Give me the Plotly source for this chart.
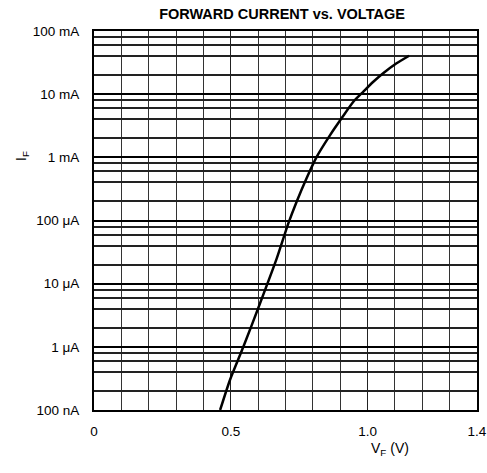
import plotly.graph_objects as go

# Data (forward voltage in V, forward current in A)
vf_volts = [0.461, 0.497, 0.546, 0.607, 0.668, 0.710, 0.741, 0.777, 0.814, 0.863,
            0.905, 0.948, 0.984, 1.021, 1.057, 1.106, 1.152]
if_amps = [1.0e-7, 2.99e-7, 1.0e-6, 4.89e-6, 2.51e-5, 8.9e-5, 2.0e-4, 4.68e-4, 1.02e-3, 2.25e-3,
           4.15e-3, 7.59e-3, 1.09e-2, 1.57e-2, 2.14e-2, 3.08e-2, 4.06e-2]

x_tick_vals = [0, 0.5, 1.0, 1.4]
x_tick_text = ["0", "0.5", "1.0", "1.4"]
x_grid_vals = [0.1, 0.2, 0.3, 0.4, 0.6, 0.7, 0.8, 0.9, 1.1, 1.2, 1.3]

y_tick_vals = [1e-7, 1e-6, 1e-5, 1e-4, 1e-3, 1e-2, 1e-1]
y_tick_text = ["100 nA", "1 μA", "10 μA", "100 μA", "1 mA", "10 mA", "100 mA"]
y_grid_vals = [m * d for d in [1e-7, 1e-6, 1e-5, 1e-4, 1e-3, 1e-2] for m in (2, 4, 6, 8)]

font_family = "Liberation Sans, Arial, sans-serif"

W, H = 487, 473
pl, pr, pt, pb = 94, 10, 31, 63
pw, ph = W - pl - pr, H - pt - pb


def px_to_paper(px, py):
    return (px - pl) / pw, 1 - (py - pt) / ph


fig = go.Figure()
fig.add_trace(go.Scatter(
    x=vf_volts, y=if_amps, mode="lines",
    line=dict(color="black", width=2.5, shape="spline", smoothing=0.6),
    showlegend=False, hoverinfo="skip",
))

ix, iy = px_to_paper(22, 156)
vx, vy = px_to_paper(390, 449)

fig.update_layout(
    width=W, height=H,
    margin=dict(l=pl, r=pr, t=pt, b=pb, autoexpand=False),
    paper_bgcolor="white", plot_bgcolor="white",
    font=dict(family=font_family, size=13.5, color="black"),
    title=dict(text="<b>FORWARD CURRENT vs. VOLTAGE</b>", x=282 / W, xanchor="center",
               xref="container", y=1 - 13.5 / H, yanchor="middle", yref="container",
               font=dict(family=font_family, size=14.5, color="black")),
    xaxis=dict(range=[0, 1.4], tickvals=x_tick_vals, ticktext=x_tick_text,
               automargin=False,
               showgrid=True, gridcolor="#222", gridwidth=1.2,
               showline=True, linecolor="black", linewidth=2, mirror=True,
               ticks="", ticklabelstandoff=8, zeroline=False,
               ticklabeloverflow="allow",
               tickfont=dict(size=13.5),
               minor=dict(tickvals=x_grid_vals, showgrid=True, gridcolor="#333", gridwidth=1, ticks="")),
    yaxis=dict(type="log", range=[-7, -1], tickvals=y_tick_vals, ticktext=y_tick_text,
               automargin=False,
               showgrid=True, gridcolor="black", gridwidth=2,
               showline=True, linecolor="black", linewidth=2, mirror=True,
               ticks="", ticklabelstandoff=10, zeroline=False,
               ticklabeloverflow="allow",
               tickfont=dict(size=13.5),
               minor=dict(tickvals=y_grid_vals, showgrid=True, gridcolor="#222", gridwidth=1.5, ticks="")),
    annotations=[
        dict(text="I<sub>F</sub>", textangle=-90, x=ix, y=iy, xref="paper", yref="paper",
             xanchor="center", yanchor="middle", showarrow=False, font=dict(size=14)),
        dict(text="V<sub>F</sub> (V)", x=vx, y=vy, xref="paper", yref="paper",
             xanchor="center", yanchor="middle", showarrow=False, font=dict(size=14)),
    ],
)

fig.write_html("out.html", config={"displayModeBar": False},
               post_script="document.body.style.margin='0';")
